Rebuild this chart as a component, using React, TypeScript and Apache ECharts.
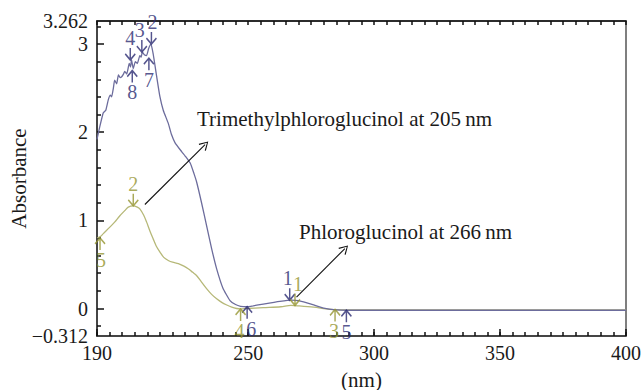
import React, { useEffect, useRef } from "react";
import * as echarts from "echarts";

// Trimethylphloroglucinol spectrum (nm, absorbance)
const triX = [190, 191, 192.5, 193.5, 194.5, 195.3, 195.8, 196.5, 197, 197.8, 198.5, 199.2, 199.8, 200.5, 201, 201.8, 202.8, 203.3, 203.7, 204.4, 205.2, 206, 207, 207.5, 208, 208.8, 209.7, 210.5, 211.4, 212.3, 213.7, 215, 216.3, 218.3, 219.5, 221, 223.6, 225, 227, 228.5, 229.6, 231.5, 233.5, 235.5, 237.5, 240, 242.8, 245, 247, 249.4, 252, 256, 262.6, 267.3, 270, 272, 276, 280, 285, 289, 300, 350, 400];
const triY = [1.92, 2.05, 2.22, 2.25, 2.37, 2.42, 2.4, 2.5, 2.59, 2.55, 2.65, 2.62, 2.63, 2.66, 2.69, 2.66, 2.78, 2.74, 2.82, 2.72, 2.8, 2.78, 2.87, 2.85, 2.91, 2.88, 2.87, 2.95, 3.0, 2.89, 2.63, 2.4, 2.25, 2.1, 1.98, 1.88, 1.78, 1.73, 1.65, 1.53, 1.43, 1.2, 0.94, 0.68, 0.45, 0.23, 0.09, 0.045, 0.025, 0.02, 0.03, 0.05, 0.08, 0.094, 0.09, 0.075, 0.04, 0.005, -0.015, -0.02, -0.02, -0.02, -0.02];

// Phloroglucinol spectrum
const phlX = [190, 191.5, 192.5, 195, 197, 199, 201, 202.4, 204.4, 206, 207, 208.5, 209.7, 211, 212.3, 213.5, 215, 216.5, 218.3, 220, 222.3, 224.5, 226.2, 228, 229.5, 231.5, 233.5, 235.5, 237.5, 239.5, 241.5, 243.5, 245.4, 247, 249.4, 256, 263, 267, 270, 276, 282.5, 290, 400];
const phlY = [0.8, 0.82, 0.85, 0.92, 0.98, 1.05, 1.11, 1.15, 1.165, 1.15, 1.13, 1.06, 0.98, 0.88, 0.79, 0.71, 0.64, 0.58, 0.545, 0.525, 0.51, 0.48, 0.45, 0.41, 0.375, 0.3, 0.225, 0.16, 0.11, 0.07, 0.04, 0.015, 0.0, -0.005, 0.0, 0.01, 0.02, 0.035, 0.03, 0.015, -0.01, -0.015, -0.015];

// Peak markers: [nm, absorbance, label, label x-shift]
const triDown: [number, number, string, number][] = [[266.5, 0.094, "1", -2], [211.6, 3.0, "2", 1], [207.8, 2.91, "3", -2], [203.2, 2.82, "4", 0]];
const triUp: [number, number, string, number][] = [[289, -0.02, "5", 0], [249.6, 0.02, "6", 4], [210.6, 2.84, "7", 0], [204, 2.7, "8", 0]];
const phlDown: [number, number, string, number][] = [[268.6, 0.035, "1", 3], [204.4, 1.165, "2", 0]];
const phlUp: [number, number, string, number][] = [[284.5, -0.01, "3", -1], [247, -0.005, "4", -1], [191.2, 0.8, "5", 1]];

// Tick values
const xLabels = [190, 250, 300, 350, 400];
const yLabels = [-0.312, 0, 1, 2, 3, 3.262];
const yMajor = [0, 1, 2, 3];
const yMinor = [-0.2, 0.2, 0.4, 0.6, 0.8, 1.2, 1.4, 1.6, 1.8, 2.2, 2.4, 2.6, 2.8, 3.2];

// Annotation arrows [[x1,y1],[x2,y2]]
const triArrow = [[209, 1.18], [232.9, 1.86]];
const phlArrow = [[269.2, 0.13], [288.4, 0.68]];

const FONT = "Liberation Serif, DejaVu Serif, serif";
const NAVY = "#2b2b72";
const OLIVE = "#959530";
const BLUE_LINE = "#6c6c9c";
const YEL_LINE = "#b6b878";

const DOWN = "path://M5,0 L5,12 M0,6 L5,12 L10,6";
const UP = "path://M5,12 L5,0 M0,6 L5,0 L10,6";
const CHEVRON = "path://M0,10 L5,0 L10,10 L9,10.8 L5,2.2 L1,10.8 Z";

function markerSeries(data: [number, number, string, number][], down: boolean, color: string) {
  return {
    type: "scatter",
    data: data.map((d) => ({ value: [d[0], d[1]], name: d[2], label: { offset: [d[3], 0] } })),
    symbol: down ? DOWN : UP,
    symbolSize: [10, 12],
    symbolOffset: [0, down ? -6 : 6],
    itemStyle: { color: "transparent", borderColor: color, borderWidth: 1.6 },
    label: {
      show: true,
      position: down ? "top" : "bottom",
      distance: -1,
      formatter: (p: any) => p.name,
      color,
      fontSize: 20,
      fontFamily: FONT,
    },
    z: 5,
    silent: true,
  };
}

export default function App() {
  const ref = useRef<HTMLDivElement>(null);
  useEffect(() => {
    if (!ref.current) return;
    const chart = echarts.init(ref.current, null, { renderer: "svg" });
    const tickText = { fontSize: 20, fontFamily: FONT, color: "#1a1a1a" };
    const nameText = { fontSize: 21, fontFamily: FONT, color: "#1a1a1a" };
    chart.setOption({
      animation: false,
      textStyle: { fontFamily: FONT },
      grid: {
        left: 97, right: 15, top: 21, bottom: 54, containLabel: false, outerBoundsMode: "none",
        show: true, borderColor: "#555", borderWidth: 1.5, backgroundColor: "transparent",
      },
      xAxis: [
        {
          type: "value", min: 190, max: 400, position: "bottom",
          name: "(nm)", nameLocation: "middle", nameGap: 33, nameMoveOverlap: false, nameTextStyle: nameText,
          axisLine: { show: true, onZero: false, lineStyle: { color: "#333", width: 1.5 } },
          axisTick: { show: true, inside: true, length: 7, customValues: xLabels, lineStyle: { color: "#111", width: 1.5 } },
          axisLabel: { customValues: xLabels, margin: 7, ...tickText },
          splitLine: { show: false },
        },
        {
          type: "value", min: 190, max: 400, interval: 5, position: "bottom",
          axisLine: { show: false, onZero: false },
          axisTick: { show: true, inside: true, length: 4, lineStyle: { color: "#111", width: 1.5 } },
          axisLabel: { show: false },
          splitLine: { show: false },
        },
        {
          type: "value", min: 190, max: 400, interval: 5, position: "top",
          axisLine: { show: true, onZero: false, lineStyle: { color: "#111", width: 1.5 } },
          axisTick: { show: true, inside: true, length: 4, lineStyle: { color: "#111", width: 1.5 } },
          axisLabel: { show: false },
          splitLine: { show: false },
        },
      ],
      yAxis: [
        {
          type: "value", min: -0.312, max: 3.262, position: "left",
          name: "Absorbance", nameLocation: "middle", nameGap: 68, nameMoveOverlap: false, nameTextStyle: nameText,
          axisLine: { show: true, onZero: false, lineStyle: { color: "#333", width: 1.5 } },
          axisTick: { show: true, inside: true, length: 7, customValues: yMajor, lineStyle: { color: "#111", width: 1.5 } },
          axisLabel: {
            customValues: yLabels, margin: 9, ...tickText,
            formatter: (v: number) => (v < 0 ? "\u2212" + String(-v) : String(v)),
          },
          splitLine: { show: false },
        },
        {
          type: "value", min: -0.312, max: 3.262, position: "left",
          axisLine: { show: false, onZero: false },
          axisTick: { show: true, inside: true, length: 4, customValues: yMinor, lineStyle: { color: "#111", width: 1.5 } },
          axisLabel: { show: false },
          splitLine: { show: false },
        },
      ],
      series: [
        {
          type: "line", name: "Phloroglucinol",
          data: phlX.map((x, i) => [x, phlY[i]]),
          showSymbol: false, smooth: 0.3,
          lineStyle: { color: YEL_LINE, width: 1.3 },
          z: 2, silent: true,
          markLine: {
            silent: true, animation: false,
            label: { show: false },
            lineStyle: { color: "#111", width: 1.1, type: "solid" },
            symbolSize: [10, 9],
            data: [[
              { coord: phlArrow[0], symbol: "none" },
              { coord: phlArrow[1], symbol: CHEVRON },
            ]],
          },
        },
        {
          type: "line", name: "Trimethylphloroglucinol",
          data: triX.map((x, i) => [x, triY[i]]),
          showSymbol: false, smooth: 0.15,
          lineStyle: { color: BLUE_LINE, width: 1.3 },
          z: 3, silent: true,
          markLine: {
            silent: true, animation: false,
            label: { show: false },
            lineStyle: { color: "#111", width: 1.1, type: "solid" },
            symbolSize: [10, 9],
            data: [[
              { coord: triArrow[0], symbol: "none" },
              { coord: triArrow[1], symbol: CHEVRON },
            ]],
          },
        },
        markerSeries(triDown, true, NAVY),
        markerSeries(triUp, false, NAVY),
        markerSeries(phlDown, true, OLIVE),
        markerSeries(phlUp, false, OLIVE),
      ],
      graphic: [
        { type: "text", left: 197, top: 108, style: { text: "Trimethylphloroglucinol at 205\u2009nm", fontSize: 21, fontFamily: FONT, fill: "#1a1a1a" } },
        { type: "text", left: 299, top: 221, style: { text: "Phloroglucinol at 266\u2009nm", fontSize: 21, fontFamily: FONT, fill: "#1a1a1a" } },
      ],
    });
    return () => chart.dispose();
  }, []);
  return <div ref={ref} style={{ width: 641, height: 390, position: "absolute", left: 0, top: 0 }} />;
}
